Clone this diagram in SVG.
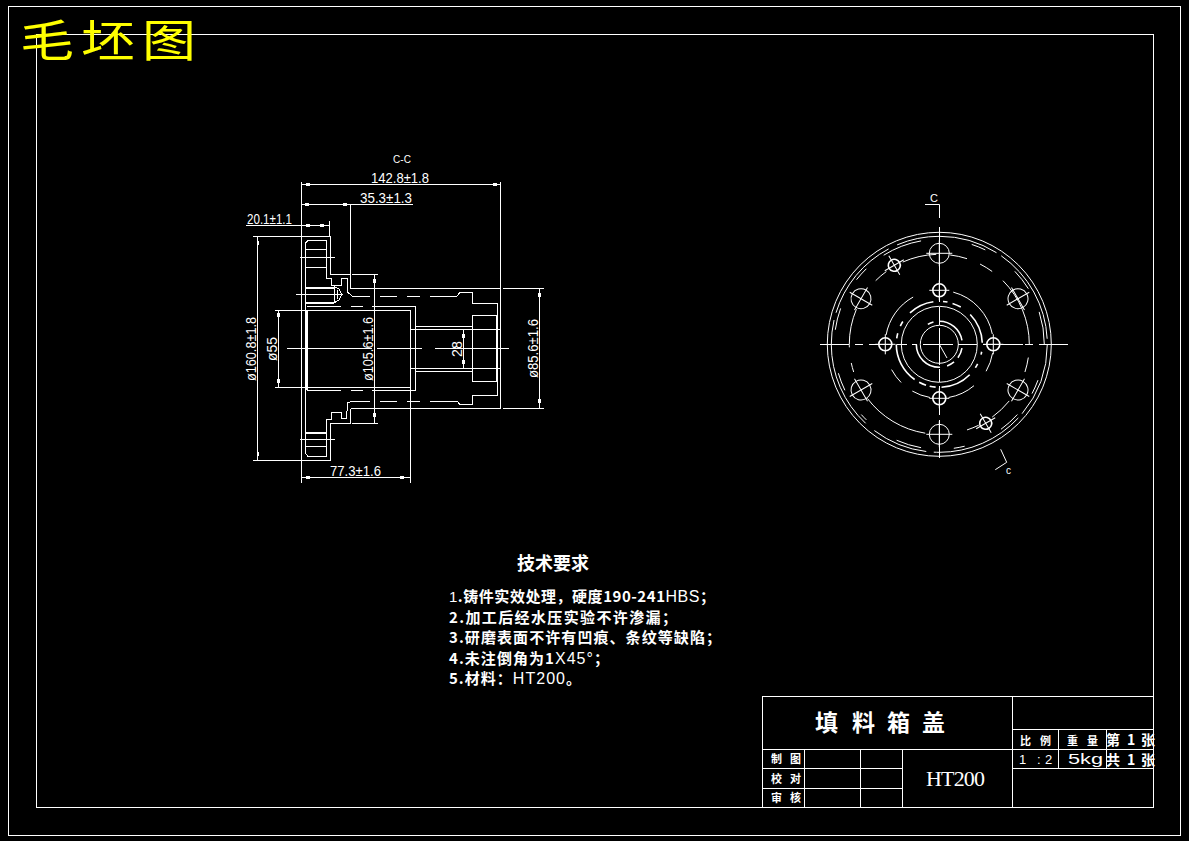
<svg xmlns="http://www.w3.org/2000/svg" xmlns:xlink="http://www.w3.org/1999/xlink" width="1189" height="841" viewBox="0 0 1189 841">
<style>
.l{fill:none;stroke:#fff;stroke-width:1;shape-rendering:crispEdges}
.t{stroke-width:2}
.c{fill:none;stroke:#fff;stroke-width:1}
.h{fill:none;stroke:#fff;stroke-width:1.6}
.a{fill:#fff;shape-rendering:crispEdges}
.d{fill:#fff;font-family:"Liberation Sans",Arial,sans-serif;font-size:14.5px}
.k{fill:#fff;font-family:"Noto Sans CJK SC",sans-serif;font-weight:700}
.n{fill:#fff;font-family:"Liberation Sans",Arial,sans-serif}
.w{font-family:"Liberation Sans",Arial,sans-serif;font-weight:400}
</style>
<defs>
<g id="hole"><circle class="c" r="10"/><path class="c" d="M-13 0H13M0-13V13"/></g>
<g id="thread"><circle class="h" r="6"/><path class="c" d="M-11 0H11M0-11V11"/></g>
<g id="inner"><circle class="h" r="6.500"/><path class="c" d="M-10 0H10M0-10V10"/></g>
</defs>
<rect width="1189" height="841" fill="#000"/>
<g id="frame">
<rect class="l" x="8.500" y="6.500" width="1172" height="829"/>
<rect class="l" x="36.500" y="34.500" width="1117" height="773"/>
</g>
<text id="stamp" transform="translate(20 57) scale(1 .83)" font-family="Noto Sans CJK SC,sans-serif" font-size="54" fill="#ff0" textLength="176">毛坯图</text>

<g id="section-view">
<g id="section-outline">
<path class="l" d="M301.500 236.500H330.500V274.500H350.500M330.500 460.500V423.500H350.500V408.500M350.500 204.500V288.500H500.500"/>
<path class="l" d="M350.500 408.500H500.500M502.500 288.500H543.500M502.500 408.500H543.500M301.500 460.500H330.500"/>
<path class="l" d="M305.500 243V453L308 456.500H326.500V419.500H331.500V412.500H341.500V418.500H346.500L347.500 403L352 401H370M380 401H397M407 401H420M430 401H457L460 404.500H472.500V395.500H497.500V303.500H472.500V292.500H460L457 296H430M420 296H407M397 296H380M370 296H352L347.500 292V279L345 278H341.500V285.500H331.500V278.500H326.500V240.500H308L305.500 243"/>
<path class="l" d="M305.500 249.500H326.500M305.500 267.500H326.500M305.500 446.500H326.500M299.500 257.500H334.500M299.500 439.500H334.500"/>
<path class="l t" d="M305.500 432.500H326.500M305.500 287.500H334M305.500 302.500H334"/>
<path class="l" d="M334.500 287V302.500L339 300L342 294.500L339 289ZM337.500 290V299M296 294.500H343"/>
<path class="l t" d="M306.500 310V390"/>
<path class="l" d="M274.500 310.500H410.500V387.500H274.500M306.500 306.500H341M351 306.500H363M372 306.500H415.500V390.500H372M363 390.500H351M341 390.500H306.500"/>
<path class="l" d="M410.500 330V482.500M410.500 387.500V310.500"/>
<path class="l" d="M415.500 326.500H472.500M410.500 329.500H500.500M410.500 368.500H500.500M415.500 371.500H472.500"/>
<rect class="l" x="472.500" y="315.500" width="24" height="66"/>
<path class="l" d="M287 348.500H372M377 348.500H422M435 348.500H509"/>
</g>
<g id="dimensions">
<path class="l" d="M301.500 182V482.500M500.500 182V408.500M301.500 184.500H500.500M301.500 204.500H413M246 225.500H329.500M329.500 221V236.500M253 236.500H301.500M253 460.500H301.500M257.500 236.500V460.500"/>
<path class="l" d="M278.500 310.500V387.500M374.500 274.500V423.500M352 274.500H378M352 423.500H378M539.500 288.500V408.500M463.500 329.500V368.500M301.500 477.500H410.500"/>
<path class="a" d="M306 183h4v3h-4zM493 183h4v3h-4zM305 203h4v3h-4zM343 203h4v3h-4zM306 224h4v3h-4zM320 224h4v3h-4zM256.500 241h2.500v4h-2.500zM256.500 452h2.500v4h-2.500zM277 313h3v4h-3zM277 379h3v4h-3zM373 279h3v4h-3zM373 413h3v4h-3zM538 293h3v4h-3zM538 399h3v4h-3zM462 334h3v4h-3zM462 360h3v4h-3zM306 476h4v3h-4zM400 476h4v3h-4z"/>
<text class="d" x="371" y="183" textLength="58" lengthAdjust="spacingAndGlyphs">142.8±1.8</text>
<text class="d" x="360" y="203" textLength="52" lengthAdjust="spacingAndGlyphs">35.3±1.3</text>
<text class="d" x="247" y="224" textLength="45" lengthAdjust="spacingAndGlyphs">20.1±1.1</text>
<text class="d" x="330" y="476" textLength="51" lengthAdjust="spacingAndGlyphs">77.3±1.6</text>
<text class="d" transform="translate(256 381) rotate(-90)" textLength="64" lengthAdjust="spacingAndGlyphs">ø160.8±1.8</text>
<text class="d" transform="translate(277 361) rotate(-90)" textLength="24" lengthAdjust="spacingAndGlyphs">ø55</text>
<text class="d" transform="translate(373 381) rotate(-90)" textLength="64" lengthAdjust="spacingAndGlyphs">ø105.6±1.6</text>
<text class="d" transform="translate(462 357) rotate(-90)" textLength="16" lengthAdjust="spacingAndGlyphs">28</text>
<text class="d" transform="translate(538 378) rotate(-90)" textLength="59" lengthAdjust="spacingAndGlyphs">ø85.6±1.6</text>
<text class="d" x="393" y="163" style="font-size:10px" textLength="18">C-C</text>
</g>
</g>

<g id="end-view">
<circle class="c" cx="939.300" cy="344.300" r="112"/>
<circle class="c" cx="939.300" cy="344.300" r="108" pathLength="360" stroke-dasharray="40 3 50 4 30 6 60 4 45 5 55 3 52 3"/>
<circle class="c" cx="939.300" cy="344.300" r="105" pathLength="360" stroke-dasharray="0 20 8 14 12 22 6 18 14 20 4 16 10 24 12 18 8 12 22 28 8 20 12 14 18 12"/>
<circle class="c" cx="939.300" cy="344.300" r="90" pathLength="360" stroke-dasharray="0 8.500 9.500 21 15 10 8 27 44 19 6 10 25 22 9 12 22 9 11 9 9 9 45"/>
<circle class="c" cx="939.300" cy="344.300" r="54" pathLength="360" stroke-dasharray="0 9.500 20.500 20 30 20 20 15 17 38 51 44 64 11"/>
<circle class="h" cx="939.300" cy="344.300" r="43" pathLength="360" stroke-dasharray="0 10 4 13 6 12 42 8 8 5 10 7 55 8 7 10 7 15 35 13 6 7 12 16 42 2"/>
<circle class="c" cx="939.300" cy="344.300" r="38"/>
<circle class="h" cx="939.300" cy="344.300" r="23" pathLength="360" stroke-dasharray="0 10 26 14 20 18 92 60 15 15 80 10"/>
<circle class="c" cx="939.300" cy="344.300" r="19"/>
<path class="c" d="M939.300 344.300L947 358"/>
<path class="l" d="M820 344.500H849M855 344.500H863M869 344.500H893M897 344.500H907M912 344.500H917M923 344.500H953M958 344.500H977M983 344.500H1023M1025 344.500H1033M1039 344.500H1068"/>
<path class="l" d="M939.500 227V302M939.500 307V325M939.500 328V365M939.500 369V382M939.500 386V415M939.500 420V458"/>
<use xlink:href="#hole" href="#hole" transform="translate(939.300 253.300)"/>
<use xlink:href="#hole" href="#hole" transform="translate(1018 298.700) rotate(-30)"/>
<use xlink:href="#hole" href="#hole" transform="translate(1018 390) rotate(30)"/>
<use xlink:href="#hole" href="#hole" transform="translate(939.300 434.300)"/>
<use xlink:href="#hole" href="#hole" transform="translate(861 390) rotate(-30)"/>
<use xlink:href="#hole" href="#hole" transform="translate(861 298.700) rotate(30)"/>
<use xlink:href="#thread" href="#thread" transform="translate(894.300 265.300) rotate(60)"/>
<use xlink:href="#thread" href="#thread" transform="translate(985.700 423.300) rotate(60)"/>
<use xlink:href="#inner" href="#inner" transform="translate(939.300 290.300)"/>
<use xlink:href="#inner" href="#inner" transform="translate(885.300 344.300)"/>
<use xlink:href="#inner" href="#inner" transform="translate(993.300 344.300)"/>
<use xlink:href="#inner" href="#inner" transform="translate(939.300 398.300)"/>
<path class="c" d="M925 204.500H939.500V218M1000.700 449.300L1006.700 462.300L995.300 469.700"/>
<text class="n" x="930" y="202" font-size="11">C</text>
<text class="n" x="1006" y="474" font-size="10">c</text>
</g>

<g id="requirements">
<text class="k" x="517" y="570" font-size="18" textLength="72">技术要求</text>
<text class="k" x="449" y="602" font-size="15" textLength="266"><tspan class="w">1</tspan>.铸件实效处理，硬度190-241<tspan class="w" font-size="16">HBS</tspan>；</text>
<text class="k" x="449" y="623" font-size="15" textLength="228">2.加工后经水压实验不许渗漏；</text>
<text class="k" x="449" y="643" font-size="15" textLength="272">3.研磨表面不许有凹痕、条纹等缺陷；</text>
<text class="k" x="449" y="664" font-size="15" textLength="160">4.未注倒角为1<tspan class="w" font-size="16">X45°</tspan>；</text>
<text class="k" x="449" y="684" font-size="15" textLength="132">5.材料：<tspan class="w" font-size="16">HT200</tspan>。</text>
</g>

<g id="title-block">
<rect class="l" x="762.500" y="696.500" width="390.500" height="111"/>
<path class="l" d="M1012.500 696.500V807.500M1012.500 729.500H1153M762.500 749.500H1153M762.500 768.500H902.500M1012.500 768.500H1153M762.500 788.500H902.500M804.500 749.500V807.500M860.500 749.500V807.500M902.500 749.500V807.500M1058.500 729.500V768.500M1106.500 729.500V768.500"/>
<text class="k" x="815 852 887 922" y="731" font-size="23">填料箱盖</text>
<text class="k" x="771 790" y="763" font-size="11">制图</text>
<text class="k" x="771 790" y="783" font-size="11">校对</text>
<text class="k" x="771 790" y="802" font-size="11">审核</text>
<text x="926" y="786" fill="#fff" font-family="Liberation Serif,serif" font-size="22" textLength="59">HT200</text>
<text class="k" x="1020 1040" y="745" font-size="11">比例</text>
<text class="k" x="1067 1087" y="745" font-size="11">重量</text>
<text class="k" x="1106 1127 1141" y="745" font-size="14">第1张</text>
<text class="k" x="1106 1127 1141" y="765" font-size="14">共1张</text>
<text class="n" x="1019 1037 1045" y="764" font-size="13">1:2</text>
<text class="n" x="1068" y="764" font-size="15" textLength="35" lengthAdjust="spacingAndGlyphs">5kg</text>
</g>
</svg>
